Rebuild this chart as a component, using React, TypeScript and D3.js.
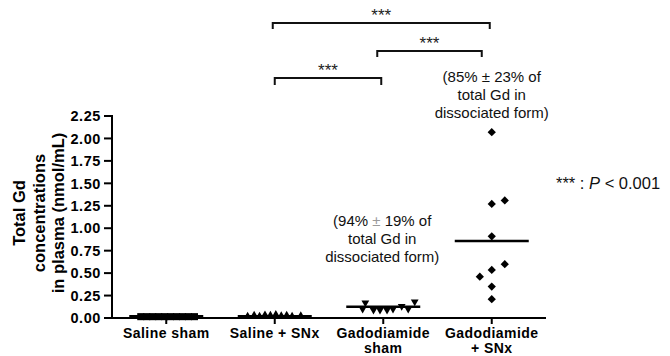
import React from "react";
import * as d3 from "d3";

const categories = ["Saline sham", "Saline + SNx", "Gadodiamide sham", "Gadodiamide + SNx"];
const categoryLabelLines = [["Saline sham"], ["Saline + SNx"], ["Gadodiamide", "sham"], ["Gadodiamide", "+ SNx"]];
const yTicks = [0, 0.25, 0.5, 0.75, 1.0, 1.25, 1.5, 1.75, 2.0, 2.25];

// values (nmol/mL) and horizontal jitter (fraction of band width)
const salineShamValues = [0.015, 0.015, 0.015, 0.015, 0.015, 0.015, 0.015, 0.015, 0.015, 0.015];
const salineShamJitter = [-0.235, -0.18, -0.125, -0.07, -0.015, 0.04, 0.095, 0.15, 0.205, 0.26];
const salineSNxValues = [0.02, 0.03, 0.02, 0.035, 0.03, 0.04, 0.025, 0.03, 0.02, 0.025];
const salineSNxJitter = [-0.25, -0.19, -0.14, -0.09, -0.04, 0.01, 0.06, 0.11, 0.16, 0.24];
const gadoShamValues = [0.1, 0.17, 0.09, 0.09, 0.09, 0.1, 0.13, 0.1, 0.18];
const gadoShamJitter = [-0.19, -0.165, -0.09, -0.03, 0.035, 0.09, 0.17, 0.23, 0.29];
const gadoSNxValues = [2.07, 1.27, 1.31, 0.91, 0.6, 0.535, 0.46, 0.35, 0.21];
const gadoSNxJitter = [0, 0, 0.12, 0, 0.12, 0, -0.11, 0, 0];
const groupMeans = [0.02, 0.02, 0.125, 0.857];

const annotation85 = ["(85% ± 23% of", "total Gd in", "dissociated form)"];
const annotation94 = ["(94% ", "±", " 19% of", "total Gd in", "dissociated form)"];
const yLabelLines = ["Total Gd", "concentrations", "in plasma (nmol/mL)"];

// significance brackets: [from category, to category]
const brackets = [
  { from: 1, to: 3, label: "***" },
  { from: 2, to: 3, label: "***" },
  { from: 1, to: 2, label: "***" },
];

export default function App() {
  const W = 670, H = 356;
  const x = d3.scaleBand<string>().domain(categories).range([112, 546]).padding(0);
  const y = d3.scaleLinear().domain([0, 2.25]).range([318, 116]);
  const bw = x.bandwidth();
  const cx = (i: number) => (x(categories[i]) as number) + bw / 2;
  const fmt = d3.format(".2f");
  const font = "'Liberation Sans', Arial, sans-serif";

  const square = d3.symbol().type(d3.symbolSquare).size(50)()!;
  const tri = d3.symbol().type(d3.symbolTriangle).size(26)()!;
  const diamond = d3.symbol().type(d3.symbolSquare).size(34)()!;

  const groups = [
    { vals: salineShamValues, jit: salineShamJitter, path: square, rot: 0 },
    { vals: salineSNxValues, jit: salineSNxJitter, path: tri, rot: 0 },
    { vals: gadoShamValues, jit: gadoShamJitter, path: tri, rot: 180 },
    { vals: gadoSNxValues, jit: gadoSNxJitter, path: diamond, rot: 45 },
  ];

  const bracketLayout = [
    { yh: 23, stemBottom: 29, x1off: -2, x2off: -2, ty: 21 },
    { yh: 51, stemBottom: 57, x1off: -6, x2off: -10, ty: 49 },
    { yh: 78, stemBottom: 85, x1off: 0, x2off: -2, ty: 76 },
  ];

  return (
    <div style={{ position: "absolute", left: 0, top: 0 }}>
      <svg width={W} height={H} style={{ display: "block", background: "#fff" }} fontFamily={font}>
        {/* y axis */}
        <line x1={112} x2={112} y1={y(2.25) - 1} y2={y(0) + 1} stroke="#000" strokeWidth={2} />
        {yTicks.map((t) => (
          <g key={t}>
            <line x1={104} x2={112} y1={y(t)} y2={y(t)} stroke="#000" strokeWidth={2} />
            <text x={101} y={y(t)} dy="0.36em" textAnchor="end" fontSize={14.5} fontWeight="bold" letterSpacing={0.6}>
              {fmt(t)}
            </text>
          </g>
        ))}
        {/* x axis */}
        <line x1={111} x2={546} y1={y(0)} y2={y(0)} stroke="#000" strokeWidth={2} />
        {categories.map((c, i) => (
          <g key={c}>
            <line x1={cx(i)} x2={cx(i)} y1={y(0)} y2={y(0) + 6} stroke="#000" strokeWidth={2} />
            {categoryLabelLines[i].map((ln, j) => (
              <text key={j} x={cx(i)} y={338 + j * 15} textAnchor="middle" fontSize={14} fontWeight="bold" letterSpacing={0.45}>
                {ln}
              </text>
            ))}
          </g>
        ))}
        {/* y label */}
        {yLabelLines.map((ln, j) => (
          <text
            key={j}
            transform={`translate(${25 + j * 19.5},213) rotate(-90)`}
            textAnchor="middle"
            fontSize={16.5}
            fontWeight="bold"
          >
            {ln}
          </text>
        ))}
        {/* points */}
        {groups.map((g, i) =>
          g.vals.map((v, k) => (
            <path
              key={`${i}-${k}`}
              d={g.path}
              transform={`translate(${cx(i) + g.jit[k] * bw},${y(v)}) rotate(${g.rot})`}
              fill="#000"
            />
          ))
        )}
        {/* means */}
        {groupMeans.map((m, i) => (
          <line key={i} x1={cx(i) - 37} x2={cx(i) + 37} y1={y(m)} y2={y(m)} stroke="#000" strokeWidth={2.6} />
        ))}
        {/* brackets */}
        {brackets.map((b, i) => {
          const L = bracketLayout[i];
          const x1 = cx(b.from) + L.x1off;
          const x2 = cx(b.to) + L.x2off;
          return (
            <g key={i}>
              <path
                d={`M${x1},${L.stemBottom}V${L.yh}H${x2}V${L.stemBottom}`}
                fill="none"
                stroke="#111"
                strokeWidth={2}
              />
              <text x={(x1 + x2) / 2} y={L.ty} textAnchor="middle" fontSize={17} fill="#222">
                {b.label}
              </text>
            </g>
          );
        })}
        {/* annotations */}
        {annotation85.map((ln, j) => (
          <text key={j} x={cx(3)} y={82 + j * 18} textAnchor="middle" fontSize={15} fill="#111">
            {ln}
          </text>
        ))}
        <text x={cx(2) - 1} y={226} textAnchor="middle" fontSize={15} fill="#111">
          {annotation94[0]}
          <tspan fill="#9a9a9a">{annotation94[1]}</tspan>
          {annotation94[2]}
        </text>
        {annotation94.slice(3).map((ln, j) => (
          <text key={j} x={cx(2) - 1} y={244 + j * 18} textAnchor="middle" fontSize={15} fill="#111">
            {ln}
          </text>
        ))}
        {/* legend */}
        <text x={556} y={189} fontSize={16.5} fill="#111">
          {"*** : "}
          <tspan fontStyle="italic">P</tspan>
          {" < 0.001"}
        </text>
      </svg>
    </div>
  );
}
